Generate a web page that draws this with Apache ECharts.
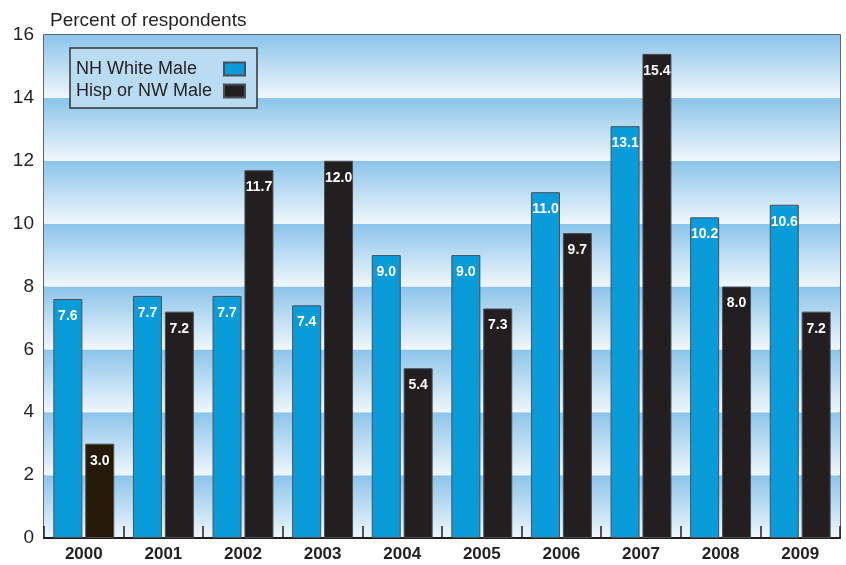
<!DOCTYPE html>
<html>
<head>
<meta charset="utf-8">
<script src="https://cdn.jsdelivr.net/npm/echarts@6/dist/echarts.min.js"></script>
<style>
  html, body { margin: 0; padding: 0; background: #fff; }
  #chart { width: 846px; height: 565px; }
</style>
</head>
<body>
<div id="chart"></div>
<script>
  // 数据
  var years = ['2000', '2001', '2002', '2003', '2004', '2005', '2006', '2007', '2008', '2009']
  var whiteMale = [7.6, 7.7, 7.7, 7.4, 9.0, 9.0, 11.0, 13.1, 10.2, 10.6]
  var hispMale = [3.0, 7.2, 11.7, 12.0, 5.4, 7.3, 9.7, 15.4, 8.0, 7.2]

  var font = 'Liberation Sans'
  var chart = echarts.init(document.getElementById('chart'))

  var labelOpt = {
    show: true,
    position: 'insideTop',
    distance: 10,
    color: '#fff',
    fontFamily: font,
    fontWeight: 'bold',
    fontSize: 14,
    formatter: function (p) { return p.value.toFixed(1) }
  }

  // 2000年那根柱子颜色略偏棕
  var hispData = hispMale.map(function (v, i) {
    if (i === 0) {
      return { value: v, itemStyle: { color: '#251a08' } }
    }
    return v
  })

  chart.setOption({
    animation: false,
    textStyle: { fontFamily: font },
    title: {
      text: 'Percent of respondents',
      left: 45,
      top: 6,
      textStyle: { fontFamily: font, fontWeight: 'normal', fontSize: 19, color: '#231f20' }
    },
    legend: {
      orient: 'vertical',
      left: 70,
      top: 48,
      align: 'right',
      icon: 'rect',
      padding: [12, 11, 8, 6],
      itemGap: 4,
      itemWidth: 21,
      itemHeight: 13,
      backgroundColor: '#b9dcf3',
      borderColor: '#333',
      borderWidth: 1.5,
      formatter: function (name) { return '{t|' + name + '}' },
      textStyle: {
        fontFamily: font,
        fontSize: 18,
        color: '#231f20',
        rich: {
          t: { fontFamily: font, fontSize: 18, color: '#231f20', width: 143, align: 'left', lineHeight: 18 }
        }
      },
      data: ['NH White Male', 'Hisp or NW Male']
    },
    grid: {
      left: 44,
      right: 6,
      top: 35,
      bottom: 27,
      show: true,
      borderColor: '#333',
      borderWidth: 1.5
    },
    xAxis: {
      type: 'category',
      data: years,
      axisLine: { lineStyle: { color: '#231f20', width: 2 } },
      axisTick: { show: true, inside: true, length: 12, lineStyle: { color: '#231f20', width: 1.5 } },
      axisLabel: { fontFamily: font, fontWeight: 'bold', fontSize: 17, color: '#231f20', margin: 8 }
    },
    yAxis: {
      type: 'value',
      min: 0,
      max: 16,
      interval: 2,
      axisLine: { show: false },
      axisTick: { show: false },
      splitLine: { show: false },
      axisLabel: { fontFamily: font, fontSize: 19, color: '#231f20', margin: 10 },
      splitArea: {
        show: true,
        areaStyle: {
          color: [new echarts.graphic.LinearGradient(0, 0, 0, 1, [
            { offset: 0, color: '#8bc4ea' },
            { offset: 1, color: '#f0f7fc' }
          ])]
        }
      }
    },
    series: [
      {
        name: 'NH White Male',
        type: 'bar',
        data: whiteMale,
        barWidth: 29,
        barGap: '10%',
        itemStyle: { color: '#0a9cd9', borderColor: '#4a4f55', borderWidth: 1 },
        label: labelOpt
      },
      {
        name: 'Hisp or NW Male',
        type: 'bar',
        data: hispData,
        barWidth: 29,
        itemStyle: { color: '#231f20', borderColor: '#4a4f55', borderWidth: 1 },
        label: labelOpt
      }
    ]
  })
</script>
</body>
</html>
